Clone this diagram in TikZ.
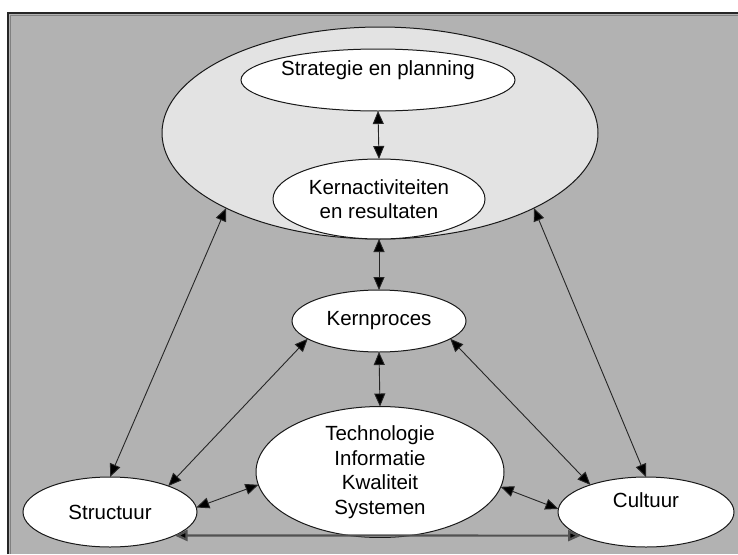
\documentclass[tikz,border=0pt]{standalone}
\usepackage{fontspec}
\setmainfont{Liberation Sans}
\usetikzlibrary{shapes.geometric,arrows.meta}
\definecolor{bggray}{RGB}{178,178,178}
\definecolor{biggray}{RGB}{227,227,227}
\begin{document}
\begin{tikzpicture}[x=1pt,y=-1pt,
  every node/.style={font=\fontsize{20.5}{24.5}\selectfont},
  oval/.style={ellipse, draw=black!90, line width=1pt, fill=white, inner sep=0pt, outer sep=0pt, align=center},
  link/.style={line width=0.9pt, draw=black!85, {Triangle[length=13pt,width=11pt,fill=black]}-{Triangle[length=13pt,width=11pt,fill=black]}},
  baselink/.style={link, line width=2.2pt, draw=black!68}
]
\useasboundingbox (0,0) rectangle (738,554);
\fill[white] (0,0) rectangle (738,554);
\fill[bggray] (8,13) rectangle (738,554);
\draw[black!50, line width=1pt] (10.5,554) -- (10.5,15.5) -- (738,15.5);
\draw[black!85, line width=2pt] (8,554) -- (8,13) -- (738,13);

\node[oval, fill=biggray, minimum width=436pt, minimum height=212pt] (big) at (380,133) {};
\node[oval, minimum width=234pt, minimum height=62pt] (strat) at (378,80) {\raisebox{24pt}{Strategie en planning}};
\node[oval, minimum width=212pt, minimum height=80pt] (ka) at (379,199) {Kernactiviteiten\\en resultaten};
\node[oval, minimum width=174pt, minimum height=62pt] (kp) at (379,321) {Kernproces};
\node[oval, minimum width=248pt, minimum height=121pt] (tech) at (380,472) {Technologie\\Informatie\\Kwaliteit\\Systemen};
\node[oval, minimum width=174pt, minimum height=70pt] (struct) at (110,512) {Structuur};
\node[oval, minimum width=176pt, minimum height=70pt] (cult) at (646,512) {\raisebox{24pt}{Cultuur}};

\draw[link] (strat.south) -- (ka.north);
\draw[link] (ka.south) -- (kp.north);
\draw[link] (kp.south) -- (tech.north);
\draw[link] (struct.north) -- (big.206);
\draw[link] (cult.north) -- (big.334);
\draw[link] (kp.194) -- (struct.24);
\draw[link] (kp.346) -- (cult.154);
\draw[link] (struct.3) -- (tech.186);
\draw[link] (tech.353) -- (cult.178);
\draw[baselink] (struct.340) -- (cult.200);
\end{tikzpicture}
\end{document}
